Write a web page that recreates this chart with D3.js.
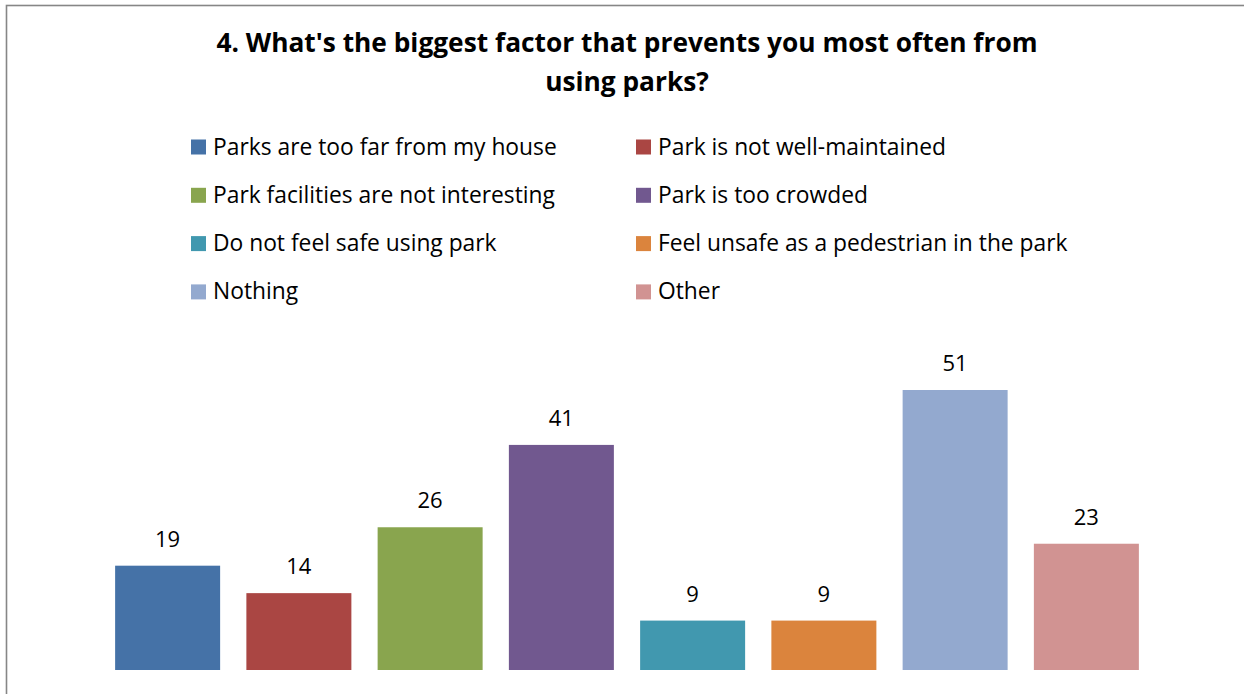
<!DOCTYPE html>
<html>
<head>
<meta charset="utf-8">
<script src="https://cdn.jsdelivr.net/npm/d3@7"></script>
<style>
  html, body { margin: 0; padding: 0; background: #ffffff; }
  svg { display: block; }
  text { font-family: "Open Sans", Lato, "DejaVu Sans", sans-serif; fill: #000; }
</style>
</head>
<body>
<svg id="chart" width="1244" height="694"></svg>
<script>
// Survey question and answer counts
const titleLines = [
  "4. What's the biggest factor that prevents you most often from",
  "using parks?"
];
const categories = [
  "Parks are too far from my house",
  "Park is not well-maintained",
  "Park facilities are not interesting",
  "Park is too crowded",
  "Do not feel safe using park",
  "Feel unsafe as a pedestrian in the park",
  "Nothing",
  "Other"
];
const counts = [19, 14, 26, 41, 9, 9, 51, 23];
const colors = ["#4572A7", "#AA4643", "#89A54E", "#71588F", "#4198AF", "#DB843D", "#93A9CF", "#D19392"];

const svg = d3.select("#chart");
const W = 1244, H = 694;

// chart frame
svg.append("rect")
  .attr("x", 6.5).attr("y", 5.5)
  .attr("width", W + 10).attr("height", H + 10)
  .attr("fill", "#fff")
  .attr("stroke", "#868686")
  .attr("stroke-width", 1.6);

// title
svg.append("g").selectAll("text")
  .data(titleLines)
  .join("text")
  .attr("x", 627)
  .attr("y", (d, i) => 52 + i * 39)
  .attr("text-anchor", "middle")
  .attr("font-size", 26.3)
  .attr("font-weight", "bold")
  .text(d => d);

// legend: two columns, four rows
const legend = svg.append("g");
const colX = [191, 636];
const legItems = legend.selectAll("g")
  .data(categories)
  .join("g")
  .attr("transform", (d, i) => `translate(${colX[i % 2]},${147 + Math.floor(i / 2) * 48.3})`);
legItems.append("rect")
  .attr("x", 0).attr("y", -7.5)
  .attr("width", 15).attr("height", 15)
  .attr("fill", (d, i) => colors[i]);
legItems.append("text")
  .attr("x", 22)
  .attr("y", 7.5)
  .attr("font-size", 22.8)
  .text(d => d);

// bars
const x = d3.scaleBand()
  .domain(categories)
  .range([102, 1152])
  .paddingInner(0.2)
  .paddingOuter(0.1);
const y = d3.scaleLinear()
  .domain([0, 60])
  .range([670, 340.6]);

svg.append("g").selectAll("rect")
  .data(categories)
  .join("rect")
  .attr("x", d => x(d))
  .attr("width", x.bandwidth())
  .attr("y", (d, i) => y(counts[i]))
  .attr("height", (d, i) => y(0) - y(counts[i]))
  .attr("fill", (d, i) => colors[i]);

// value labels
svg.append("g").selectAll("text")
  .data(categories)
  .join("text")
  .attr("x", d => x(d) + x.bandwidth() / 2)
  .attr("y", (d, i) => y(counts[i]) - 19)
  .attr("text-anchor", "middle")
  .attr("font-size", 22)
  .text((d, i) => counts[i]);
</script>
</body>
</html>
